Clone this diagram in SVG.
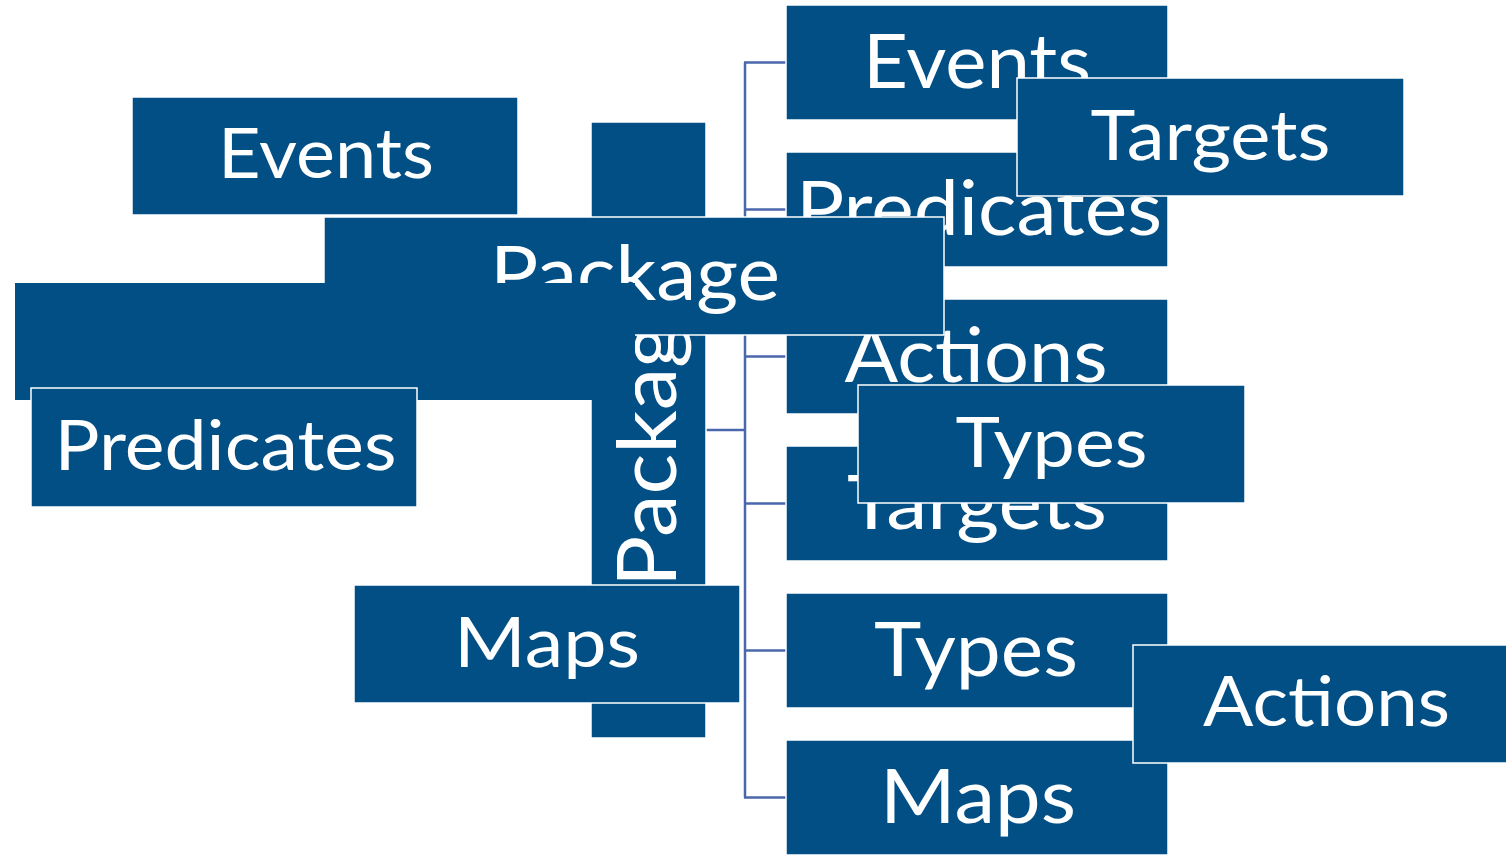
<svg xmlns="http://www.w3.org/2000/svg" width="1506" height="855" viewBox="0 0 1506 855">
  <style>
    .box { fill: #024F86; stroke: #FFFFFF; stroke-width: 1.5; }
    .plain { fill: #024F86; stroke: none; }
    .t { font-family: Lato, "Open Sans", "Liberation Sans", sans-serif; fill: #FFFFFF; text-anchor: middle; }
    .s70 { font-size: 70px; }
    .s75 { font-size: 75px; }
    .s81 { font-size: 81px; }
    .conn { stroke: #4A67AD; stroke-width: 2.5; fill: none; }
  </style>
  <rect x="0" y="0" width="1506" height="855" fill="#FFFFFF"/>

  <g id="connectors">
    <line class="conn" x1="706" y1="430" x2="745" y2="430"/>
    <line class="conn" x1="745" y1="62.5" x2="745" y2="797.5"/>
    <line class="conn" x1="744" y1="62.5" x2="786" y2="62.5"/>
    <line class="conn" x1="744" y1="209.5" x2="786" y2="209.5"/>
    <line class="conn" x1="744" y1="356.5" x2="786" y2="356.5"/>
    <line class="conn" x1="744" y1="503.5" x2="786" y2="503.5"/>
    <line class="conn" x1="744" y1="650.5" x2="786" y2="650.5"/>
    <line class="conn" x1="744" y1="797.5" x2="786" y2="797.5"/>
  </g>

  <g id="child-events">
    <rect class="box" x="786" y="5" width="382" height="115"/>
    <text class="t s75" x="977" y="87.5" textLength="228" lengthAdjust="spacingAndGlyphs">Events</text>
  </g>
  <g id="child-predicates">
    <rect class="box" x="786" y="152" width="382" height="115"/>
    <text class="t s75" x="979" y="234.5" textLength="366" lengthAdjust="spacingAndGlyphs">Predicates</text>
  </g>
  <g id="child-actions">
    <rect class="box" x="786" y="299" width="382" height="115"/>
    <text class="t s75" x="976" y="381.5" textLength="263" lengthAdjust="spacingAndGlyphs">Actions</text>
  </g>
  <g id="child-targets">
    <rect class="box" x="786" y="446" width="382" height="115"/>
    <text class="t s75" x="977" y="528.5" textLength="260" lengthAdjust="spacingAndGlyphs">Targets</text>
  </g>
  <g id="child-types">
    <rect class="box" x="786" y="593" width="382" height="115"/>
    <text class="t s75" x="976" y="675.5" textLength="204" lengthAdjust="spacingAndGlyphs">Types</text>
  </g>
  <g id="child-maps">
    <rect class="box" x="786" y="740" width="382" height="115"/>
    <text class="t s75" x="978" y="822.5" textLength="196" lengthAdjust="spacingAndGlyphs">Maps</text>
  </g>

  <g id="package-vertical">
    <rect class="box" x="591" y="122" width="115" height="616"/>
    <text class="t s81" transform="translate(676,433) rotate(-90)" x="0" y="0" textLength="308" lengthAdjust="spacingAndGlyphs">Package</text>
  </g>

  <g id="package-horizontal">
    <rect class="box" x="324" y="217" width="620" height="118"/>
    <text class="t s75" x="635" y="300" textLength="290" lengthAdjust="spacingAndGlyphs">Package</text>
  </g>

  <g id="blank-block">
    <rect class="plain" x="15" y="283" width="620" height="117"/>
  </g>

  <g id="events-left">
    <rect class="box" x="132" y="97" width="386" height="118"/>
    <text class="t s70" x="326" y="178" textLength="216" lengthAdjust="spacingAndGlyphs">Events</text>
  </g>
  <g id="predicates-left">
    <rect class="box" x="31" y="388" width="386" height="119"/>
    <text class="t s70" x="225.5" y="470" textLength="342" lengthAdjust="spacingAndGlyphs">Predicates</text>
  </g>
  <g id="maps-left">
    <rect class="box" x="354" y="585" width="386" height="118"/>
    <text class="t s70" x="547" y="667" textLength="186" lengthAdjust="spacingAndGlyphs">Maps</text>
  </g>
  <g id="targets-right">
    <rect class="box" x="1017" y="78" width="387" height="118"/>
    <text class="t s70" x="1210.5" y="160" textLength="240" lengthAdjust="spacingAndGlyphs">Targets</text>
  </g>
  <g id="types-right">
    <rect class="box" x="858" y="385" width="387" height="118"/>
    <text class="t s70" x="1051.5" y="467" textLength="192" lengthAdjust="spacingAndGlyphs">Types</text>
  </g>
  <g id="actions-right">
    <rect class="box" x="1133" y="645" width="387" height="118"/>
    <text class="t s70" x="1326.5" y="726" textLength="247" lengthAdjust="spacingAndGlyphs">Actions</text>
  </g>
</svg>
